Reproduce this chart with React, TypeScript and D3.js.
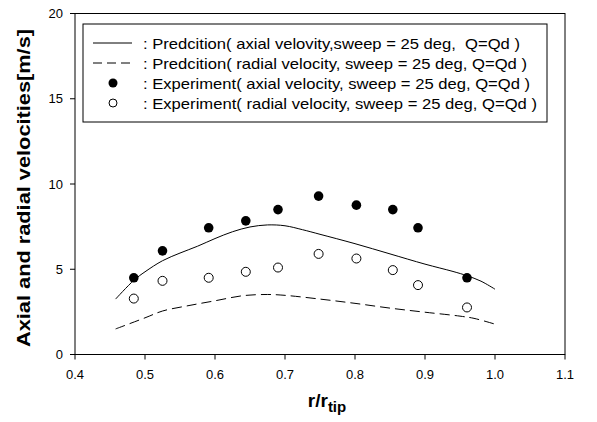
import React from "react";
import * as d3 from "d3";

const xTicks = [0.4, 0.5, 0.6, 0.7, 0.8, 0.9, 1.0, 1.1];
const yTicks = [0, 5, 10, 15, 20];

const expR = [0.484, 0.525, 0.591, 0.644, 0.69, 0.748, 0.802, 0.854, 0.89, 0.96];
const expAxial = [4.5, 6.08, 7.43, 7.84, 8.5, 9.29, 8.76, 8.5, 7.43, 4.5];
const expRadial = [3.28, 4.32, 4.5, 4.85, 5.1, 5.9, 5.63, 4.95, 4.07, 2.76];

const predAxialR = [0.458, 0.484, 0.5, 0.525, 0.55, 0.575, 0.6, 0.625, 0.65, 0.675, 0.7, 0.725, 0.75, 0.8, 0.85, 0.9, 0.94, 0.96, 0.98, 1.0];
const predAxialV = [3.25, 4.35, 4.85, 5.5, 5.95, 6.35, 6.8, 7.2, 7.48, 7.6, 7.55, 7.32, 7.05, 6.5, 5.9, 5.3, 4.87, 4.62, 4.3, 3.83];

const predRadialR = [0.458, 0.5, 0.525, 0.56, 0.6, 0.64, 0.675, 0.7, 0.75, 0.8, 0.85, 0.9, 0.95, 0.97, 1.0];
const predRadialV = [1.5, 2.15, 2.55, 2.85, 3.15, 3.45, 3.52, 3.47, 3.25, 3.0, 2.72, 2.48, 2.25, 2.12, 1.78];

const legendLabels = [
  ": Predcition( axial velovity,sweep = 25 deg,  Q=Qd )",
  ": Predcition( radial velocity, sweep = 25 deg, Q=Qd )",
  ": Experiment( axial velocity, sweep = 25 deg, Q=Qd )",
  ": Experiment( radial velocity, sweep = 25 deg, Q=Qd )",
];
const legendWidths = [377, 384, 387, 394];

const W = 597;
const H = 422;
const L = 75, R = 565, T = 13.5, B = 354.5;
const font = "Arial, 'Liberation Sans', sans-serif";

export default function App() {
  const x = d3.scaleLinear().domain([0.4, 1.1]).range([L, R]);
  const y = d3.scaleLinear().domain([0, 20]).range([B, T]);
  const line = d3
    .line<[number, number]>()
    .x((d) => x(d[0]))
    .y((d) => y(d[1]))
    .curve(d3.curveCatmullRom.alpha(0.5));
  const axialPts = predAxialR.map((r, i) => [r, predAxialV[i]] as [number, number]);
  const radialPts = predRadialR.map((r, i) => [r, predRadialV[i]] as [number, number]);

  const legX = 83, legY = 24, legW = 464, legH = 98;
  const rowY = [43, 63, 83, 103];

  return (
    <svg width={W} height={H} style={{ position: "absolute", left: 0, top: 0, background: "#fff" }} fontFamily={font}>
      <rect x={0} y={0} width={W} height={H} fill="#fff" />
      <rect x={L} y={T} width={R - L} height={B - T} fill="none" stroke="#000" strokeWidth={1} />
      {xTicks.map((t) => (
        <g key={"x" + t}>
          <line x1={x(t)} x2={x(t)} y1={B} y2={B + 5} stroke="#000" />
          <text x={x(t)} y={B + 24} textAnchor="middle" fontSize={13}>
            {t.toFixed(1)}
          </text>
        </g>
      ))}
      {yTicks.map((t) => (
        <g key={"y" + t}>
          <line x1={L - 5} x2={L} y1={y(t)} y2={y(t)} stroke="#000" />
          <text x={L - 12} y={y(t) + 4.5} textAnchor="end" fontSize={13}>
            {t}
          </text>
        </g>
      ))}
      <text
        transform={`translate(30, ${(T + B) / 2 + 4}) rotate(-90)`}
        textAnchor="middle"
        fontSize={19}
        fontWeight="bold"
        textLength={318}
        lengthAdjust="spacingAndGlyphs"
      >
        Axial and radial velocities[m/s]
      </text>
      <text x={327} y={407} textAnchor="middle" fontSize={19} fontWeight="bold">
        r/r
        <tspan fontSize={15} dy={5}>tip</tspan>
      </text>
      <path d={line(axialPts) || ""} fill="none" stroke="#000" strokeWidth={1} />
      <path d={line(radialPts) || ""} fill="none" stroke="#000" strokeWidth={1} strokeDasharray="10,5" />
      {expR.map((r, i) => (
        <circle key={"a" + i} cx={x(r)} cy={y(expAxial[i])} r={4.8} fill="#000" />
      ))}
      {expR.map((r, i) => (
        <circle key={"b" + i} cx={x(r)} cy={y(expRadial[i])} r={4.5} fill="#fff" stroke="#000" strokeWidth={1} />
      ))}
      <rect x={legX} y={legY} width={legW} height={legH} fill="#fff" stroke="#000" strokeWidth={1} />
      <line x1={93} x2={132} y1={rowY[0]} y2={rowY[0]} stroke="#000" />
      <line x1={93} x2={132} y1={rowY[1]} y2={rowY[1]} stroke="#000" strokeDasharray="9,5" />
      <circle cx={113} cy={rowY[2]} r={4.5} fill="#000" />
      <circle cx={113} cy={rowY[3]} r={4} fill="#fff" stroke="#000" />
      {legendLabels.map((s, i) => (
        <text
          key={"l" + i}
          x={143}
          y={rowY[i] + 5.5}
          fontSize={15}
          textLength={legendWidths[i]}
          lengthAdjust="spacingAndGlyphs"
          style={{ whiteSpace: "pre" }}
        >
          {s}
        </text>
      ))}
    </svg>
  );
}
